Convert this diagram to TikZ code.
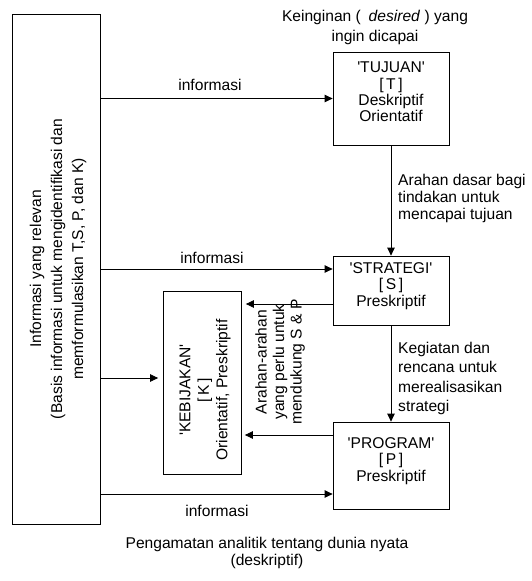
\documentclass[tikz,border=0pt]{standalone}
\usepackage{fontspec}
\setmainfont{Liberation Sans}
\usetikzlibrary{arrows.meta}
\newcommand{\sq}{\textquotesingle}
\begin{document}
\begin{tikzpicture}[x=1pt,y=-1pt,
  every node/.style={font=\fontsize{15.6}{16.5}\selectfont, inner sep=0pt},
  box/.style={draw, line width=0.8pt, rectangle, align=center},
  arr/.style={line width=0.8pt, -{Triangle[length=8pt,width=7.5pt]}},
  lbl/.style={align=center},
  side/.style={align=left, anchor=west}]
\useasboundingbox (0,0) rectangle (532,581);

% boxes
\node[box, minimum width=88pt, minimum height=510pt] (info) at (56,269) {};
\node[lbl, rotate=90, font=\fontsize{15.6}{21}\selectfont] (infotext) at (58,269)
  {Informasi yang relevan\\(Basis informasi untuk mengidentifikasi dan\\memformulasikan T,S, P, dan K)};

\node[box, minimum width=116pt, minimum height=93pt] (tujuan) at (391,98.5) {};
\node[lbl, font=\fontsize{15.6}{16.3}\selectfont] (tujuantext) at (391,92)
  {\sq TUJUAN\sq\\{[}\,T\,{]}\\Deskriptif\\Orientatif};

\node[box, minimum width=116pt, minimum height=69pt] (strategi) at (391,290.5) {};
\node[lbl, font=\fontsize{15.6}{16.3}\selectfont] (strategitext) at (391,286)
  {\sq STRATEGI\sq\\{[}\,S\,{]}\\Preskriptif};

\node[box, minimum width=116pt, minimum height=87pt] (program) at (391,465.5) {};
\node[lbl, font=\fontsize{15.6}{16.8}\selectfont] (programtext) at (391,461)
  {\sq PROGRAM\sq\\{[}\,P\,{]}\\Preskriptif};

\node[box, minimum width=78pt, minimum height=183pt] (kebijakan) at (202,382.5) {};
\node[lbl, rotate=90, font=\fontsize{15.6}{18.5}\selectfont] (kebijakantext) at (205,390)
  {\sq KEBIJAKAN\sq\\{[}\,K\,{]}\\Orientatif, Preskriptif};

% information flows from the left box
\draw[arr] (info.east |- tujuan.west) -- (tujuan.west);
\node (i1) at (210,85) {informasi};
\coordinate (s1) at (strategi.west |- 0,269);
\draw[arr] (info.east |- s1) -- (s1);
\node (i2) at (212,258) {informasi};
\coordinate (k1) at (kebijakan.west |- 0,378);
\draw[arr, shorten >=4.5pt] (info.east |- k1) -- (k1);
\coordinate (p1) at (program.west |- 0,494);
\draw[arr] (info.east |- p1) -- (p1);
\node (i3) at (217,511) {informasi};

% downward flow
\draw[arr] (tujuan.south) -- (strategi.north);
\draw[arr] (strategi.south) -- (program.north);
\node[side, font=\fontsize{15.6}{17}\selectfont] (t1) at (398,198)
  {Arahan dasar bagi\\tindakan untuk\\mencapai tujuan};
\node[side, font=\fontsize{15.6}{19.5}\selectfont] (t2) at (398,378.5)
  {Kegiatan dan\\rencana untuk\\merealisasikan\\strategi};

% guidance back to the policy box
\coordinate (sk) at (strategi.west |- 0,304);
\draw[arr, shorten >=4.5pt] (sk) -- (kebijakan.east |- sk);
\coordinate (pk) at (program.west |- 0,435);
\draw[arr, shorten >=3.5pt] (pk) -- (kebijakan.east |- pk);
\node[lbl, rotate=90, font=\fontsize{15.6}{17.5}\selectfont] (t3) at (280,362)
  {Arahan-arahan\\yang perlu untuk\\mendukung S \& P};

% captions
\node[lbl, font=\fontsize{15.6}{20}\selectfont] (top) at (375,27)
  {Keinginan (\enspace\textit{desired} ) yang\\ingin dicapai};
\node[lbl, font=\fontsize{15.6}{17.5}\selectfont] (bottom) at (267,553)
  {Pengamatan analitik tentang dunia nyata\\(deskriptif)};
\end{tikzpicture}
\end{document}
